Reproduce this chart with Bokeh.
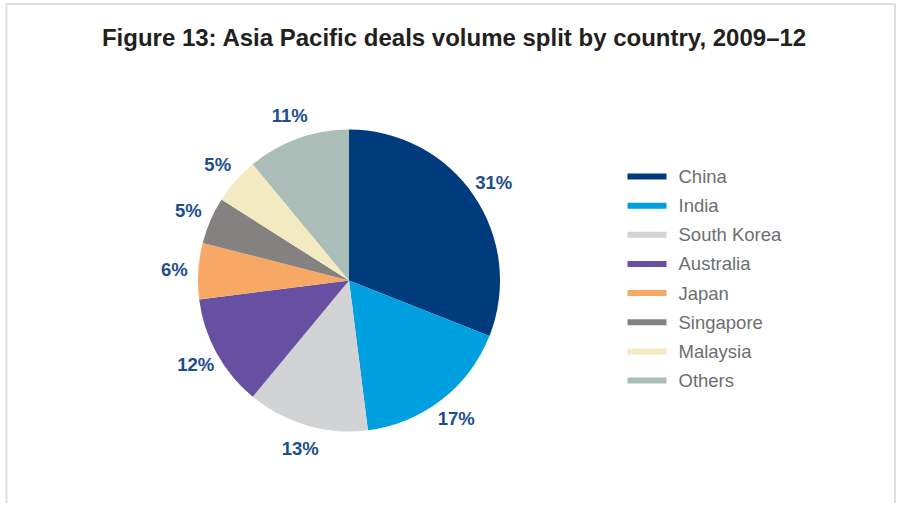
import numpy as np
from bokeh.plotting import figure
from bokeh.models import Range1d, ColumnDataSource
from bokeh.core.properties import value
from bokeh.embed import file_html
from bokeh.resources import INLINE

title_text = "Figure 13: Asia Pacific deals volume split by country, 2009\u201312"
countries = ["China", "India", "South Korea", "Australia", "Japan", "Singapore", "Malaysia", "Others"]
shares = [31, 17, 13, 12, 6, 5, 5, 11]
colors = ["#003b7e", "#00a0e0", "#d1d3d4", "#6750a1", "#f7a864", "#858181", "#f3eac1", "#abbdb7"]

W, H = 896, 503
p = figure(width=W, height=H, output_backend="svg", toolbar_location=None,
           x_range=Range1d(0, W), y_range=Range1d(0, H), min_border=0)
p.axis.visible = False
p.grid.visible = False
p.outline_line_color = None

def Y(y):
    return H - y

# light frame border
p.quad(left=[6], right=[894.5], top=[Y(3.5)], bottom=[Y(560)], fill_color=None,
       line_color="#dedede", line_width=2)

cx, cy, r = 348.5, Y(280), 151
fr = np.array(shares, dtype=float) / sum(shares)
ends = np.cumsum(fr)
starts = ends - fr
start_ang = np.pi / 2 - 2 * np.pi * starts
end_ang = np.pi / 2 - 2 * np.pi * ends
src = ColumnDataSource(dict(s=start_ang, e=end_ang, c=colors))
p.wedge(x=cx, y=cy, radius=r, start_angle="s", end_angle="e", direction="clock",
        fill_color="c", line_color=None, source=src)

mid = np.pi / 2 - 2 * np.pi * (starts + fr / 2)
lr = 175
lsrc = ColumnDataSource(dict(x=cx + lr * np.cos(mid), y=cy + lr * np.sin(mid),
                             t=[f"{v}%" for v in shares]))
p.text(x="x", y="y", text="t", source=lsrc, text_align="center", text_baseline="middle",
       text_font=value("Liberation Sans"), text_font_style="bold", text_font_size="18.5px",
       text_color="#1d4e8f")

p.text(x=[454], y=[Y(37)], text=[title_text], text_align="center", text_baseline="middle",
       text_font=value("Liberation Sans"), text_font_style="bold", text_font_size="24px",
       text_color="#231f20")

n = len(countries)
ly = np.array([Y(176 + 29.15 * i) for i in range(n)])
p.segment(x0=[627] * n, x1=[666] * n, y0=ly, y1=ly, line_color=colors, line_width=6)
p.text(x=[678] * n, y=ly, text=countries, text_baseline="middle",
       text_font=value("Liberation Sans"), text_font_size="18.5px", text_color="#6d6e71")

open("out.html", "w").write(file_html(p, INLINE))
